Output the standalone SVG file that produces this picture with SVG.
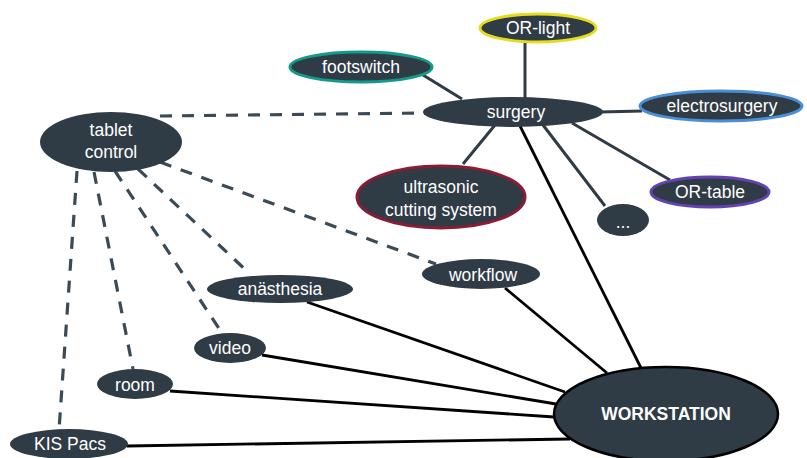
<svg xmlns="http://www.w3.org/2000/svg" width="807" height="458" viewBox="0 0 807 458">
<style>
.n{fill:#2f3b45}
.t{fill:#fff;font-family:"Liberation Sans",Arial,sans-serif;font-size:17.5px;text-anchor:middle;dominant-baseline:central}
.g{stroke:#2f3b45;stroke-width:3;fill:none}
.b{stroke:#000;stroke-width:2.8;fill:none}
.d{stroke:#3a4b57;stroke-width:3.2;fill:none;stroke-dasharray:12 10}
</style>
<rect width="807" height="458" fill="#fff"/>
<g id="connectors">
<line class="g" x1="525" y1="43" x2="525" y2="100"/>
<line class="g" x1="423" y1="75" x2="462" y2="99"/>
<line class="g" x1="600" y1="112" x2="642" y2="111"/>
<line class="g" x1="463" y1="164" x2="495" y2="125"/>
<line class="g" x1="572" y1="123" x2="670" y2="180"/>
<line class="g" x1="543" y1="125" x2="605" y2="206"/>
<line class="b" x1="520" y1="126" x2="641" y2="368"/>
<line class="b" x1="505" y1="288" x2="607" y2="373"/>
<line class="b" x1="307" y1="302" x2="565" y2="392"/>
<line class="b" x1="262" y1="355" x2="556" y2="404"/>
<line class="b" x1="170" y1="391" x2="554" y2="417"/>
<line class="b" x1="127" y1="446" x2="570" y2="439"/>
<line class="d" x1="160" y1="116" x2="425" y2="113"/>
<line class="d" x1="160" y1="162" x2="436" y2="264"/>
<line class="d" x1="138" y1="169" x2="250" y2="274"/>
<line class="d" x1="115" y1="171" x2="222" y2="333"/>
<line class="d" x1="94" y1="172" x2="133" y2="369"/>
<line class="d" x1="77" y1="171" x2="59" y2="430"/>
</g>
<g id="surgery"><ellipse class="n" cx="513" cy="112" rx="90" ry="15"/><text class="t" x="516" y="112">surgery</text></g>
<g id="or-light"><ellipse class="n" cx="538" cy="28" rx="58" ry="14" stroke="#e6dc1e" stroke-width="3"/><text class="t" x="538" y="28">OR-light</text></g>
<g id="footswitch"><ellipse class="n" cx="361" cy="67" rx="71" ry="15" stroke="#14998a" stroke-width="3"/><text class="t" x="361" y="67">footswitch</text></g>
<g id="electrosurgery"><ellipse class="n" cx="721" cy="106" rx="81" ry="15" stroke="#4a8fd6" stroke-width="3"/><text class="t" x="722" y="106">electrosurgery</text></g>
<g id="ultrasonic"><ellipse class="n" cx="441" cy="197" rx="84" ry="31" stroke="#8a1c34" stroke-width="3"/><text class="t" x="441" y="187">ultrasonic</text><text class="t" x="441" y="210">cutting system</text></g>
<g id="or-table"><ellipse class="n" cx="710" cy="192" rx="59" ry="15" stroke="#6442b4" stroke-width="3"/><text class="t" x="710" y="192">OR-table</text></g>
<g id="more"><ellipse class="n" cx="623" cy="220" rx="26" ry="16"/><text class="t" x="623" y="222">...</text></g>
<g id="tablet"><ellipse class="n" cx="111" cy="142" rx="71" ry="30"/><text class="t" x="111" y="130">tablet</text><text class="t" x="111" y="152">control</text></g>
<g id="workflow"><ellipse class="n" cx="481" cy="274" rx="59" ry="15"/><text class="t" x="483" y="275">workflow</text></g>
<g id="anaesthesia"><ellipse class="n" cx="280" cy="289" rx="73" ry="14"/><text class="t" x="280" y="289">anästhesia</text></g>
<g id="video"><ellipse class="n" cx="230" cy="348" rx="36" ry="15"/><text class="t" x="230" y="348">video</text></g>
<g id="room"><ellipse class="n" cx="135" cy="384" rx="38" ry="15"/><text class="t" x="135" y="385">room</text></g>
<g id="kis"><ellipse class="n" cx="69" cy="444" rx="59" ry="15"/><text class="t" x="70" y="444">KIS Pacs</text></g>
<g id="workstation"><ellipse class="n" cx="666" cy="414" rx="112" ry="47" stroke="#000" stroke-width="2.5"/><text class="t" x="666" y="414" font-weight="bold" font-size="18">WORKSTATION</text></g>
</svg>
